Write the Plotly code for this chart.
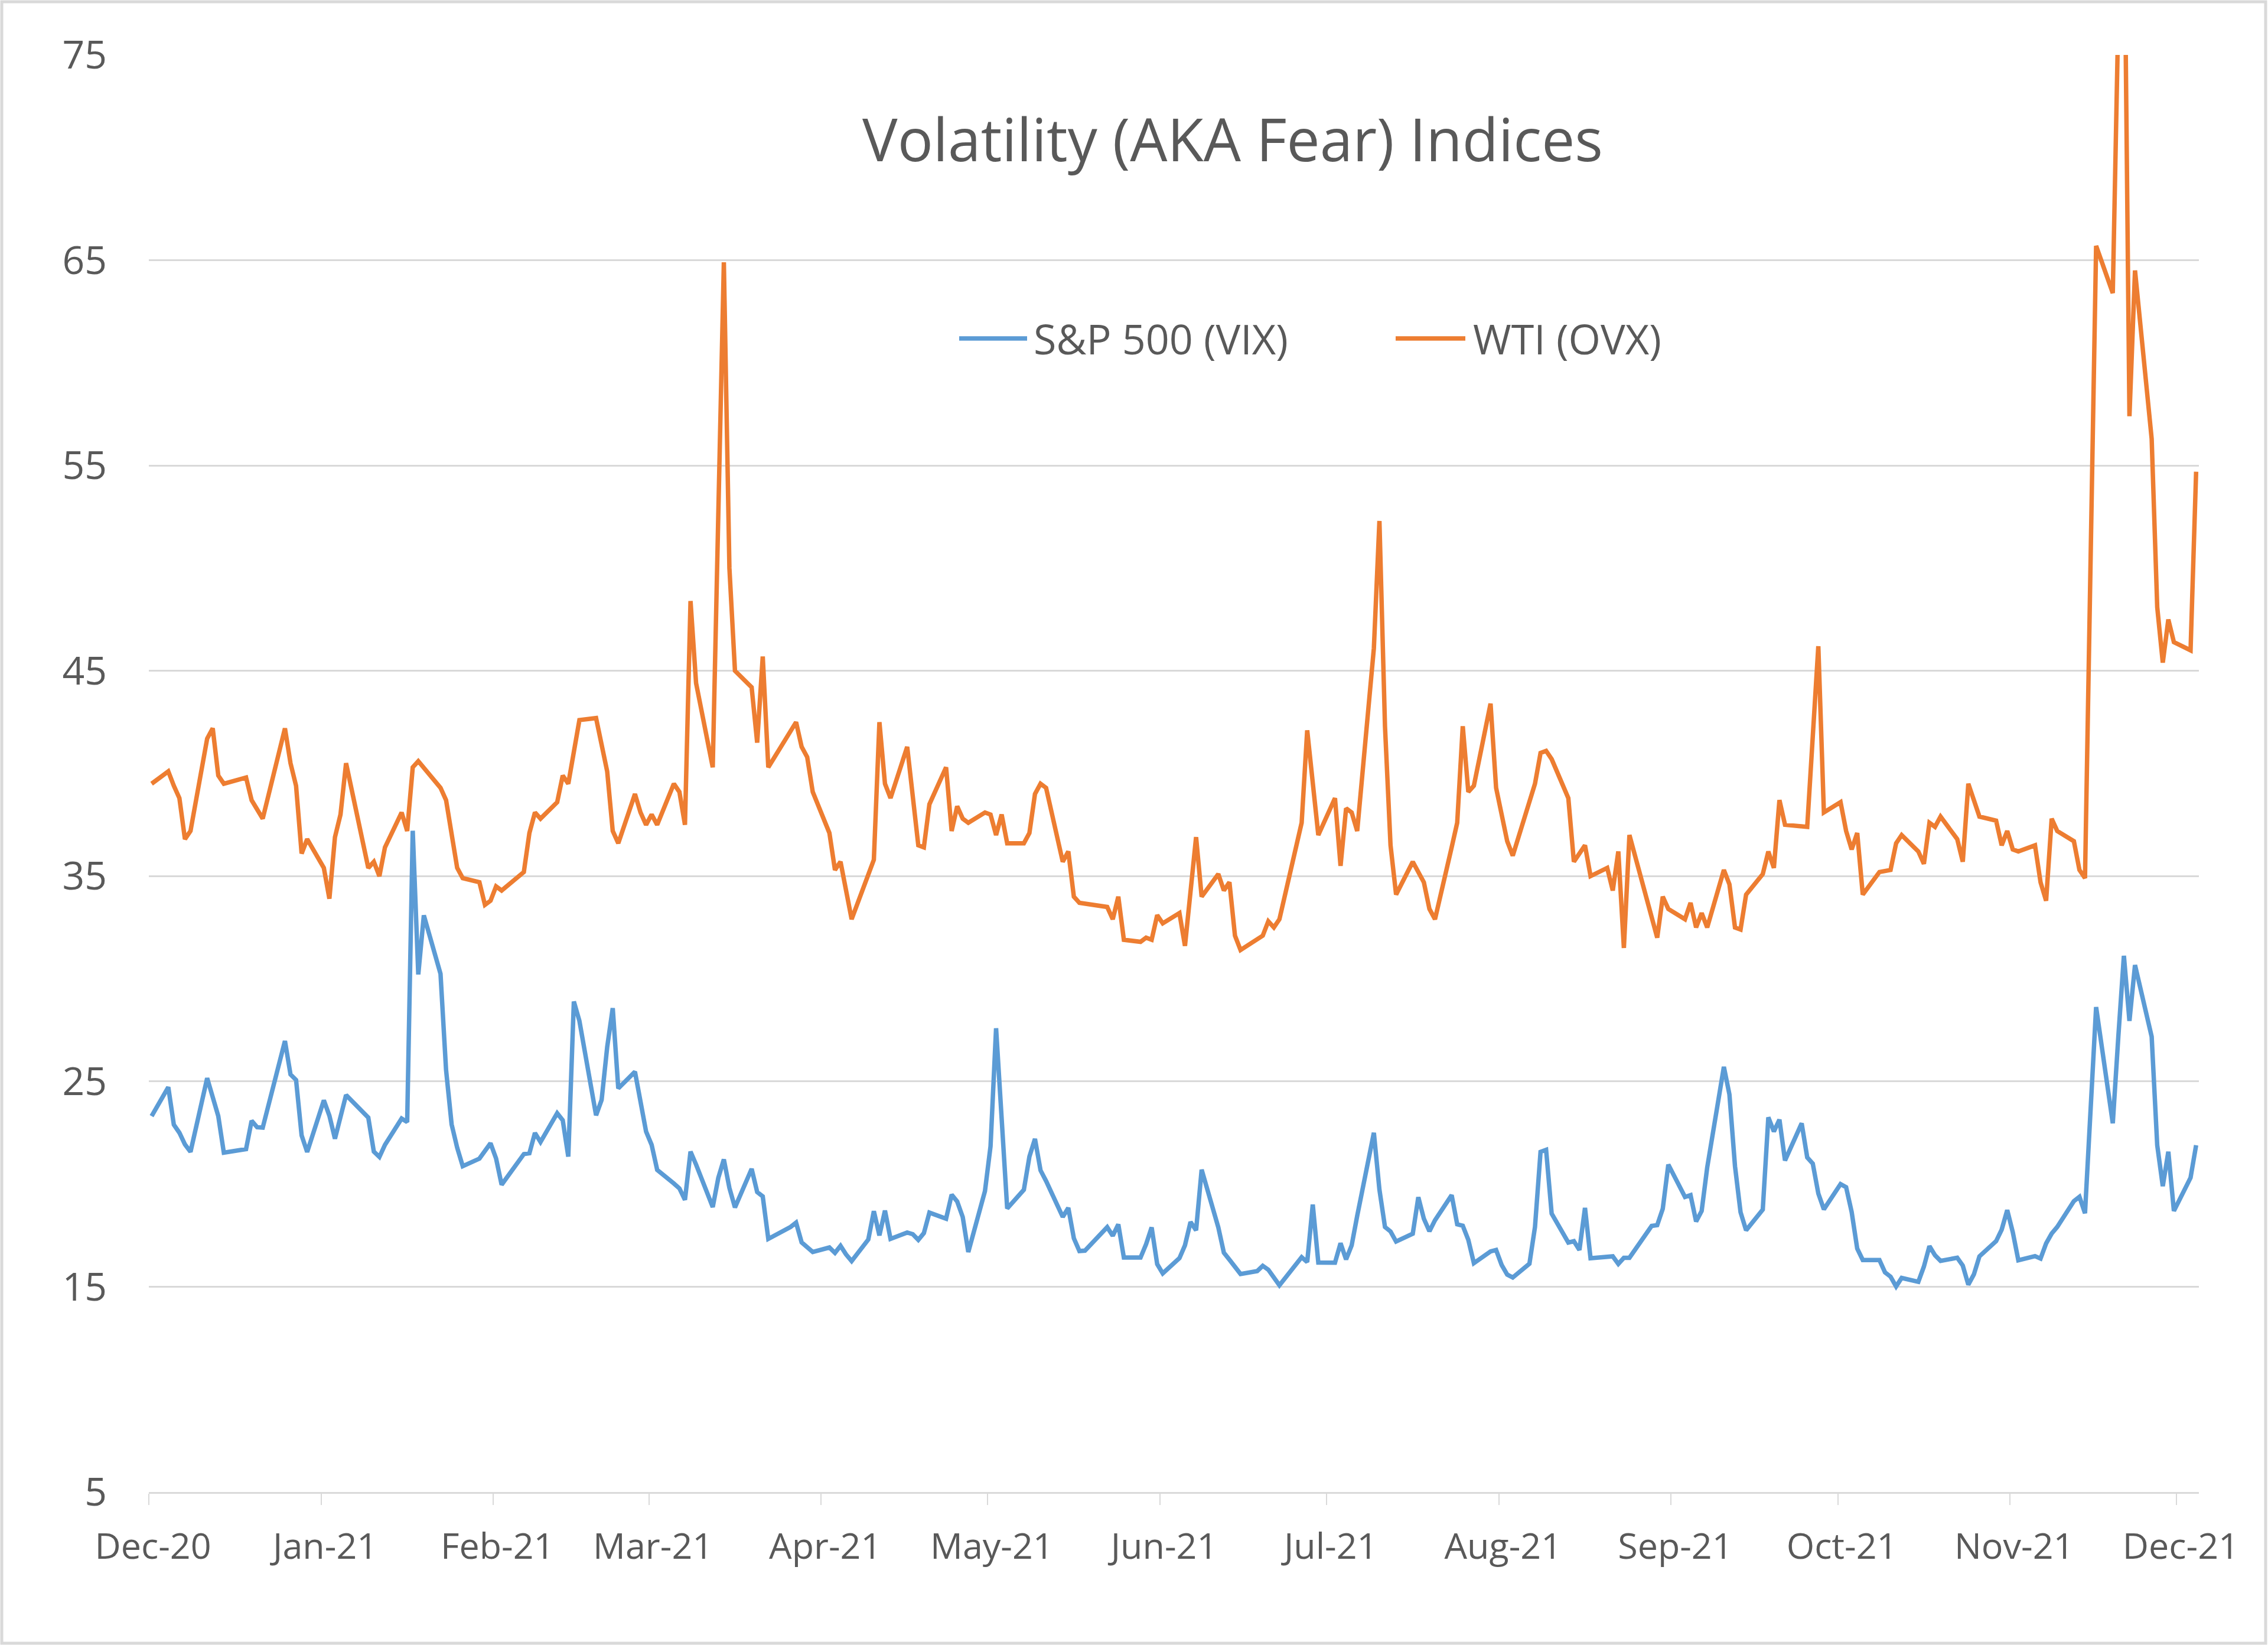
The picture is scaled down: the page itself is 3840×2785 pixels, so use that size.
import pandas as pd
import plotly.graph_objects as go

# ---------------- data ----------------
TITLE = "Volatility (AKA Fear) Indices"
NAME_VIX = "S&P 500 (VIX)"
NAME_OVX = "WTI (OVX)"

TICK_DATES = ["2020-12-11", "2021-01-11", "2021-02-11", "2021-03-11", "2021-04-11",
              "2021-05-11", "2021-06-11", "2021-07-11", "2021-08-11", "2021-09-11",
              "2021-10-11", "2021-11-11", "2021-12-11"]
TICK_LABELS = ["Dec-20", "Jan-21", "Feb-21", "Mar-21", "Apr-21", "May-21", "Jun-21",
               "Jul-21", "Aug-21", "Sep-21", "Oct-21", "Nov-21", "Dec-21"]
Y_TICKS = [5, 15, 25, 35, 45, 55, 65, 75]

FIRST_DAY = "2020-12-11"
LAST_DAY = "2021-12-14"
MARKET_HOLIDAYS = ["2020-12-25", "2021-01-01", "2021-01-18", "2021-02-15", "2021-04-02",
                   "2021-05-31", "2021-07-05", "2021-09-06", "2021-11-25"]

# S&P 500 volatility (VIX), one value per trading day, month by month
vix_dec20 = [23.31, 24.72, 22.89, 22.50, 21.93, 21.57, 25.16, 24.23, 23.31, 21.53, 21.70, 23.08, 22.77, 22.75]
vix_jan21 = [26.97, 25.34, 25.07, 22.37, 21.56, 24.08, 23.33, 22.21, 23.25, 24.34, 23.24, 21.58, 21.32, 21.91,
             23.19, 23.02, 37.21, 30.21, 33.09]
vix_feb21 = [30.24, 25.56, 22.91, 21.77, 20.87, 21.24, 21.63, 21.99, 21.25, 19.97, 21.46, 21.50, 22.49, 22.05,
             23.45, 23.11, 21.34, 28.89, 27.95]
vix_mar21 = [23.35, 24.10, 26.67, 28.57, 24.66, 25.47, 24.03, 22.56, 21.91, 20.69, 20.03, 19.79, 19.23, 21.58,
             20.95, 18.88, 20.30, 21.20, 19.81, 18.86, 20.74, 19.61, 19.40]
vix_apr21 = [17.33, 17.91, 18.12, 17.16, 16.95, 16.69, 16.91, 16.65, 16.99, 16.57, 16.25, 17.30, 18.68, 17.50,
             18.71, 17.33, 17.64, 17.56, 17.28, 17.61, 18.61]
vix_may21 = [18.31, 19.48, 19.15, 18.39, 16.69, 19.66, 21.84, 27.59, 23.13, 18.81, 19.72, 21.34, 22.20, 20.67,
             20.15, 18.40, 18.84, 17.36, 16.74, 16.76]
vix_jun21 = [17.90, 17.48, 18.04, 16.42, 16.42, 17.07, 17.89, 16.10, 15.65, 16.39, 17.02, 18.15, 17.75, 20.70,
             17.89, 16.66, 16.32, 15.97, 15.62, 15.76, 16.02, 15.83]
vix_jul21 = [15.48, 15.07, 16.44, 16.20, 19.00, 16.18, 16.17, 17.12, 16.33, 17.01, 18.45, 22.50, 19.73, 17.91,
             17.69, 17.20, 17.58, 19.36, 18.31, 17.70, 18.24]
vix_aug21 = [19.46, 18.04, 17.97, 17.28, 16.15, 16.72, 16.79, 16.06, 15.59, 15.45, 16.12, 17.91, 21.57, 21.67,
             18.56, 17.15, 17.22, 16.79, 18.84, 16.39, 16.48, 16.48]
vix_sep21 = [16.11, 16.41, 16.41, 17.96, 18.00, 18.80, 20.95, 19.37, 19.46, 18.18, 18.69, 20.81, 25.71, 24.36,
             20.87, 18.63, 17.75, 18.76, 23.25, 22.56, 23.14]
vix_oct21 = [21.15, 22.96, 21.30, 21.00, 19.54, 18.77, 20.00, 19.85, 18.64, 16.86, 16.30, 16.30, 15.70, 15.49,
             15.01, 15.43, 15.24, 15.98, 16.98, 16.53, 16.26]
vix_nov21 = [16.41, 16.03, 15.10, 15.60, 16.48, 17.22, 17.78, 18.73, 17.66, 16.29, 16.49, 16.37, 17.11, 17.59,
             17.91, 19.17, 19.38, 18.58, 28.62, 22.96, 27.19]
vix_dec21 = [31.12, 27.95, 30.67, 27.18, 21.89, 19.90, 21.58, 18.69, 20.31, 21.89]

# WTI crude volatility (OVX), read at the turning points of the line
ovx_dates = [
    "2020-12-11", "2020-12-14", "2020-12-15", "2020-12-16", "2020-12-17", "2020-12-18", "2020-12-21",
    "2020-12-22", "2020-12-23", "2020-12-24", "2020-12-28", "2020-12-29", "2020-12-31",
    "2021-01-04", "2021-01-05", "2021-01-06", "2021-01-07", "2021-01-08", "2021-01-11", "2021-01-12",
    "2021-01-13", "2021-01-14", "2021-01-15", "2021-01-19", "2021-01-20", "2021-01-21", "2021-01-22",
    "2021-01-25", "2021-01-26", "2021-01-27", "2021-01-28",
    "2021-02-01", "2021-02-02", "2021-02-04", "2021-02-05", "2021-02-08", "2021-02-09", "2021-02-10",
    "2021-02-11", "2021-02-12", "2021-02-16", "2021-02-17", "2021-02-18", "2021-02-19", "2021-02-22",
    "2021-02-23", "2021-02-24", "2021-02-26",
    "2021-03-01", "2021-03-03", "2021-03-04", "2021-03-05", "2021-03-08", "2021-03-09", "2021-03-10",
    "2021-03-11", "2021-03-12", "2021-03-15", "2021-03-16", "2021-03-17", "2021-03-18", "2021-03-19",
    "2021-03-22", "2021-03-24", "2021-03-25", "2021-03-26", "2021-03-29", "2021-03-30", "2021-03-31",
    "2021-04-01", "2021-04-06", "2021-04-07", "2021-04-08", "2021-04-09", "2021-04-12", "2021-04-13",
    "2021-04-14", "2021-04-16", "2021-04-20", "2021-04-21", "2021-04-22", "2021-04-23", "2021-04-26",
    "2021-04-28", "2021-04-29", "2021-04-30",
    "2021-05-03", "2021-05-04", "2021-05-05", "2021-05-06", "2021-05-07", "2021-05-10", "2021-05-11",
    "2021-05-12", "2021-05-13", "2021-05-14", "2021-05-17", "2021-05-18", "2021-05-19", "2021-05-20",
    "2021-05-21", "2021-05-24", "2021-05-25", "2021-05-26", "2021-05-27",
    "2021-06-01", "2021-06-02", "2021-06-03", "2021-06-04", "2021-06-07", "2021-06-08", "2021-06-09",
    "2021-06-10", "2021-06-11", "2021-06-14", "2021-06-15", "2021-06-17", "2021-06-18", "2021-06-21",
    "2021-06-22", "2021-06-23", "2021-06-24", "2021-06-25", "2021-06-29", "2021-06-30",
    "2021-07-01", "2021-07-02", "2021-07-06", "2021-07-07", "2021-07-09", "2021-07-12", "2021-07-13",
    "2021-07-14", "2021-07-15", "2021-07-16", "2021-07-19", "2021-07-20", "2021-07-21", "2021-07-22",
    "2021-07-23", "2021-07-26", "2021-07-28", "2021-07-29", "2021-07-30",
    "2021-08-02", "2021-08-03", "2021-08-04", "2021-08-05", "2021-08-06", "2021-08-09", "2021-08-10",
    "2021-08-12", "2021-08-13", "2021-08-16", "2021-08-17", "2021-08-18", "2021-08-19", "2021-08-20",
    "2021-08-23", "2021-08-24", "2021-08-26", "2021-08-27", "2021-08-30", "2021-08-31",
    "2021-09-01", "2021-09-02", "2021-09-03", "2021-09-08", "2021-09-09", "2021-09-10", "2021-09-13",
    "2021-09-14", "2021-09-15", "2021-09-16", "2021-09-17", "2021-09-20", "2021-09-21", "2021-09-22",
    "2021-09-23", "2021-09-24", "2021-09-27", "2021-09-28", "2021-09-29", "2021-09-30",
    "2021-10-01", "2021-10-05", "2021-10-07", "2021-10-08", "2021-10-11", "2021-10-12", "2021-10-13",
    "2021-10-14", "2021-10-15", "2021-10-18", "2021-10-20", "2021-10-21", "2021-10-22", "2021-10-25",
    "2021-10-26", "2021-10-27", "2021-10-28", "2021-10-29",
    "2021-11-01", "2021-11-02", "2021-11-03", "2021-11-05", "2021-11-08", "2021-11-09", "2021-11-10",
    "2021-11-11", "2021-11-12", "2021-11-15", "2021-11-16", "2021-11-17", "2021-11-18", "2021-11-19",
    "2021-11-22", "2021-11-23", "2021-11-24", "2021-11-26", "2021-11-29", "2021-11-30",
    "2021-12-01", "2021-12-02", "2021-12-03", "2021-12-06", "2021-12-07", "2021-12-08", "2021-12-09",
    "2021-12-10", "2021-12-13", "2021-12-14",
]
ovx_values = [
    39.5, 40.1, 39.4, 38.8, 36.8, 37.2, 41.7,
    42.2, 39.9, 39.5, 39.8, 38.7, 37.8,
    42.2, 40.5, 39.4, 36.1, 36.8, 35.4, 33.9,
    36.9, 38.0, 40.5, 35.4, 35.7, 35.0, 36.4,
    38.1, 37.2, 40.3, 40.6,
    39.3, 38.7, 35.4, 34.9, 34.7, 33.6, 33.8,
    34.5, 34.3, 35.2, 37.1, 38.1, 37.8, 38.6,
    39.9, 39.5, 42.6,
    42.7, 40.1, 37.2, 36.6, 39.0, 38.1, 37.5,
    38.0, 37.5, 39.5, 39.1, 37.5, 48.4, 44.4,
    40.3, 64.9, 50.0, 45.0, 44.2, 41.5, 45.7,
    40.3, 42.5, 41.3, 40.8, 39.1, 37.1, 35.3,
    35.7, 32.9, 35.8, 42.5, 39.5, 38.8, 41.3,
    36.5, 36.4, 38.5,
    40.3, 37.2, 38.4, 37.8, 37.6, 38.1, 38.0,
    37.0, 38.0, 36.6, 36.6, 37.1, 39.0, 39.5,
    39.3, 35.7, 36.2, 34.0, 33.7,
    33.5, 32.9, 34.0, 31.9, 31.8, 32.0, 31.9,
    33.1, 32.7, 33.2, 31.6, 36.9, 34.0, 35.1,
    34.3, 34.7, 32.1, 31.4, 32.1, 32.8,
    32.5, 32.9, 37.6, 42.1, 37.0, 38.8, 35.5,
    38.3, 38.1, 37.2, 46.1, 52.3, 42.3, 36.5,
    34.1, 35.7, 34.7, 33.4, 32.9,
    36.4, 37.6, 42.3, 39.1, 39.4, 43.4, 39.3,
    36.7, 36.0, 38.6, 39.5, 41.0, 41.1, 40.7,
    38.8, 35.7, 36.5, 35.0, 35.4, 34.3,
    36.2, 31.5, 37.0, 32.0, 34.0, 33.4, 32.9,
    33.7, 32.5, 33.2, 32.5, 35.3, 34.6, 32.5,
    32.4, 34.1, 35.1, 36.2, 35.4, 38.7,
    37.5, 37.4, 46.2, 38.1, 38.6, 37.2, 36.3,
    37.1, 34.1, 35.2, 35.3, 36.6, 37.0, 36.2,
    35.6, 37.6, 37.4, 37.9,
    36.8, 35.7, 39.5, 37.9, 37.7, 36.5, 37.2,
    36.3, 36.2, 36.5, 34.7, 33.8, 37.8, 37.2,
    36.7, 35.3, 34.9, 65.7, 63.4, 77.0,
    84.0, 57.4, 64.5, 56.3, 48.1, 45.4, 47.5,
    46.4, 46.0, 54.7,
]

# ---------------- build ----------------
vix_values = (vix_dec20 + vix_jan21 + vix_feb21 + vix_mar21 + vix_apr21 + vix_may21 + vix_jun21
              + vix_jul21 + vix_aug21 + vix_sep21 + vix_oct21 + vix_nov21 + vix_dec21)
trading_days = pd.bdate_range(FIRST_DAY, LAST_DAY, freq="C", holidays=MARKET_HOLIDAYS)
assert len(trading_days) == len(vix_values), (len(trading_days), len(vix_values))
assert len(ovx_dates) == len(ovx_values)

HALF_DAY = pd.Timedelta(hours=12)   # excel centres each point inside its day slot
vix_x = trading_days + HALF_DAY
ovx_x = pd.to_datetime(ovx_dates) + HALF_DAY

BLUE = "#5B9BD5"
ORANGE = "#ED7D31"
GRID = "#D9D9D9"
TEXT = "#595959"
FONT = "Open Sans"

W, H = 3840, 2785
ML, MR, MT, MB = 252, 117, 93, 259
PW, PH = W - ML - MR, H - MT - MB

fig = go.Figure()
fig.add_trace(go.Scatter(x=vix_x, y=vix_values, mode="lines", name=NAME_VIX,
                         line=dict(color=BLUE, width=7.5), showlegend=False))
fig.add_trace(go.Scatter(x=ovx_x, y=ovx_values, mode="lines", name=NAME_OVX,
                         line=dict(color=ORANGE, width=7.5), showlegend=False))


def px_x(v):
    return (v - ML) / PW


def px_y(v):
    return 1 - (v - MT) / PH


shapes = []
annotations = []
# custom legend (long line samples like the original)
legend_items = [(NAME_VIX, BLUE, 1624, 1739, 1748), (NAME_OVX, ORANGE, 2363, 2481, 2492)]
LEG_Y = 573
for name, color, x0, x1, tx in legend_items:
    shapes.append(dict(type="line", xref="paper", yref="paper",
                       x0=px_x(x0), x1=px_x(x1), y0=px_y(LEG_Y), y1=px_y(LEG_Y),
                       line=dict(color=color, width=7.5)))
    annotations.append(dict(text=name, xref="paper", yref="paper", x=px_x(tx), y=px_y(LEG_Y),
                            xanchor="left", yanchor="middle", showarrow=False,
                            font=dict(family=FONT, size=70, color=TEXT)))
# outer chart border
shapes.append(dict(type="rect", xref="paper", yref="paper",
                   x0=px_x(3), x1=px_x(W - 4), y0=px_y(H - 3), y1=px_y(3),
                   line=dict(color=GRID, width=5), fillcolor="rgba(0,0,0,0)", layer="below"))

fig.update_layout(
    width=W, height=H,
    margin=dict(l=ML, r=MR, t=MT, b=MB, autoexpand=False),
    paper_bgcolor="white", plot_bgcolor="white",
    title=dict(text=TITLE, x=2087 / W, y=1 - 238 / H, xref="container", yref="container",
               xanchor="center", yanchor="middle",
               font=dict(family=FONT, size=100, color=TEXT)),
    shapes=shapes, annotations=annotations,
    xaxis=dict(type="date", range=["2020-12-11", "2021-12-15"],
               tickvals=TICK_DATES, ticktext=TICK_LABELS,
               showgrid=False, zeroline=False,
               showline=True, linecolor=GRID, linewidth=3,
               ticks="outside", ticklen=19, tickwidth=2, tickcolor=GRID,
               tickfont=dict(family=FONT, size=61, color=TEXT),
               ticklabelstandoff=18, ticklabelshift=7),
    yaxis=dict(range=[5, 75], tickvals=Y_TICKS, ticktext=[str(v) for v in Y_TICKS],
               showgrid=True, gridcolor=GRID, gridwidth=3, zeroline=False, showline=False,
               ticks="", tickfont=dict(family=FONT, size=66, color=TEXT),
               ticklabelstandoff=70),
    font=dict(family=FONT, color=TEXT),
)

fig.write_html("out.html", config={"displayModeBar": False},
               post_script="document.body.style.margin='0';document.body.style.overflow='hidden';")
